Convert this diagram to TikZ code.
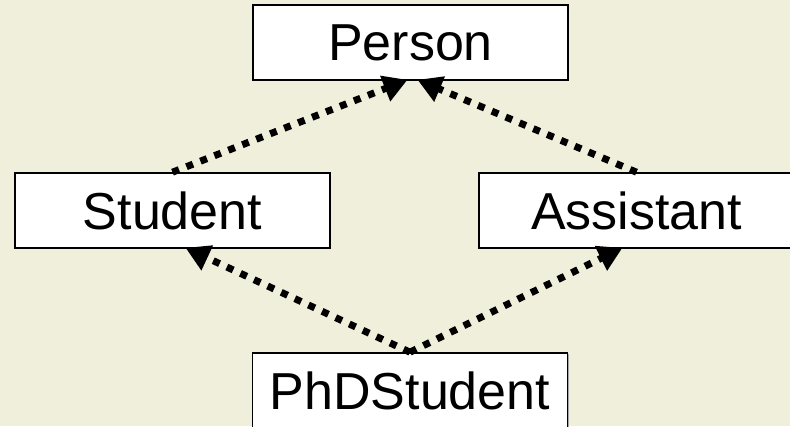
\documentclass[tikz,border=0pt]{standalone}
\usepackage{fontspec}
\setmainfont{Liberation Sans}
\usetikzlibrary{arrows.meta,calc,shadows}
\definecolor{paper}{RGB}{240,239,219}
\tikzset{
  classbox/.style={draw=black, line width=1.6pt, fill=white,
    minimum width=315pt, minimum height=75pt, inner sep=0pt,
    drop shadow={shadow xshift=1.2pt, shadow yshift=-1.2pt, fill=gray!70, opacity=1},
    font=\fontsize{52}{60}\selectfont},
  inherits/.style={line width=7pt, dash pattern=on 7pt off 8pt,
    -{Triangle[length=24pt,width=26pt]}}
}
\begin{document}
\begin{tikzpicture}[x=1pt,y=-1pt]
  \fill[paper] (0,0) rectangle (790,426);
  \useasboundingbox (0,0) rectangle (790,426);
  \node[classbox] (per) at (410.5,42.5) {Person};
  \node[classbox] (stu) at (172.5,210.5) {Student};
  \node[classbox] (asst) at (636.5,210.5) {Assistant};
  \node[classbox] (phd) at (410,390.5) {PhDStudent};
  \draw[inherits] (stu.north) -- ($(per.south)+(-3,-1)$);
  \draw[inherits] (asst.north) -- ($(per.south)+(7,-1)$);
  \draw[inherits] (phd.north) -- ($(stu.south)+(13,-1)$);
  \draw[inherits] (phd.north) -- ($(asst.south)+(-14,-1)$);
\end{tikzpicture}
\end{document}
